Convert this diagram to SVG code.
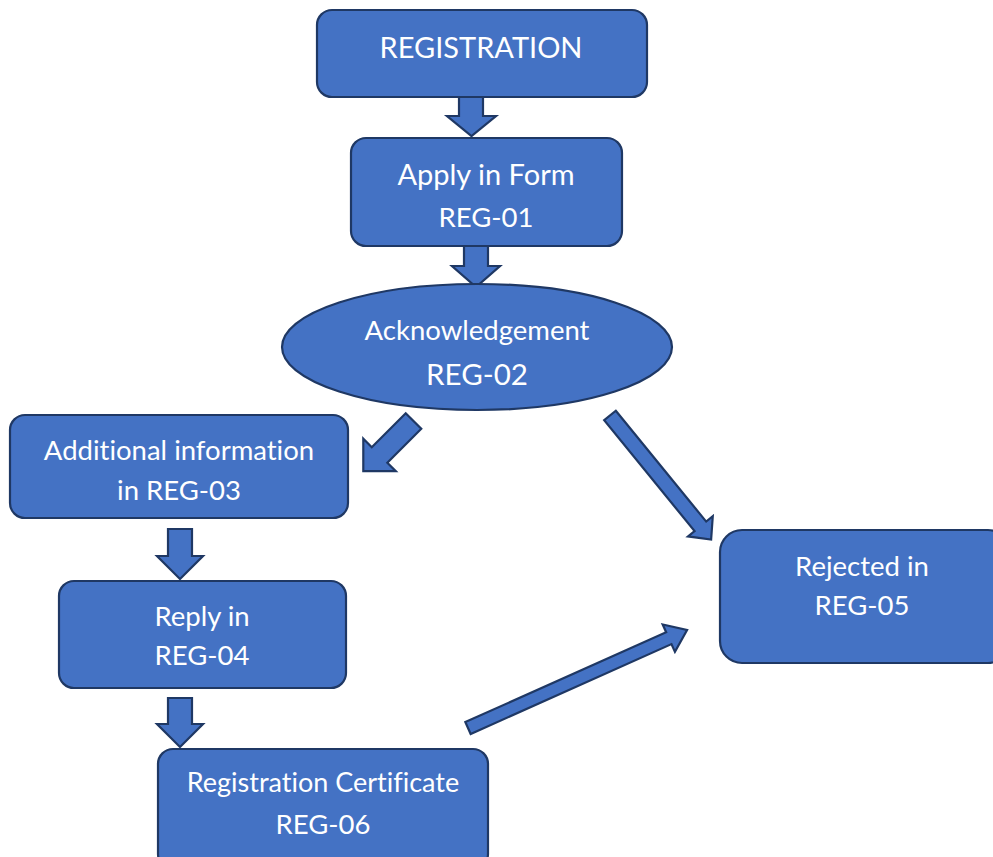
<svg xmlns="http://www.w3.org/2000/svg" width="993" height="857" viewBox="0 0 993 857">
  <style>
    .box { fill: #4472C4; stroke: #1F3864; stroke-width: 2.2; }
    .arrow { fill: #4472C4; stroke: #1F3864; stroke-width: 2.2; stroke-linejoin: miter; }
    .label { fill: #FFFFFF; font-family: "Lato", "Liberation Sans", sans-serif; font-size: 27.5px; text-anchor: middle; font-variant-ligatures: none; }
  </style>
  <rect width="993" height="857" fill="#FFFFFF"/>

  <g id="connectors">
    <!-- REGISTRATION -> Apply in Form -->
    <polygon class="arrow" points="459,97 483,97 483,116 496,116 471.5,136 447,116 459,116"/>
    <!-- Apply in Form -> Acknowledgement -->
    <polygon class="arrow" points="464,246 488,246 488,266 500,266 476,287 452,266 464,266"/>
    <!-- Acknowledgement -> Additional information -->
    <polygon class="arrow" transform="translate(413.5,421) rotate(135)" points="0,-11 48,-11 48,-23 71,0 48,23 48,11 0,11"/>
    <!-- Acknowledgement -> Rejected -->
    <polygon class="arrow" transform="translate(610,415.5) rotate(50.8)" points="0,-7.5 143,-7.5 143,-16 160,0 143,16 143,7.5 0,7.5"/>
    <!-- Additional information -> Reply -->
    <polygon class="arrow" points="168,529 192,529 192,556 203,556 180,579 157,556 168,556"/>
    <!-- Reply -> Registration Certificate -->
    <polygon class="arrow" points="168,698 192,698 192,724 203,724 180,747 157,724 168,724"/>
    <!-- Registration Certificate -> Rejected -->
    <polygon class="arrow" transform="translate(468,728) rotate(-24.1)" points="0,-6.5 220,-6.5 220,-15 240,0 220,15 220,6.5 0,6.5"/>
  </g>

  <g id="registration">
    <rect class="box" x="317" y="10" width="330" height="87" rx="15"/>
    <text class="label" x="481" y="58" style="font-size:29px">REGISTRATION</text>
  </g>

  <g id="apply-form">
    <rect class="box" x="351" y="138" width="271" height="108" rx="15"/>
    <text class="label" x="486" y="185" style="font-size:29px">Apply in Form</text>
    <text class="label" x="486" y="227">REG-01</text>
  </g>

  <g id="acknowledgement">
    <ellipse class="box" cx="477" cy="347" rx="195" ry="63"/>
    <text class="label" x="477" y="340">Acknowledgement</text>
    <text class="label" x="477" y="385" style="font-size:29.5px">REG-02</text>
  </g>

  <g id="additional-information">
    <rect class="box" x="10" y="415" width="338" height="103" rx="15"/>
    <text class="label" x="179" y="460">Additional information</text>
    <text class="label" x="179" y="500">in REG-03</text>
  </g>

  <g id="reply">
    <rect class="box" x="59" y="581" width="287" height="107" rx="15"/>
    <text class="label" x="202" y="626">Reply in</text>
    <text class="label" x="202" y="665">REG-04</text>
  </g>

  <g id="registration-certificate">
    <rect class="box" x="158" y="749" width="330" height="120" rx="15"/>
    <text class="label" x="323" y="792" style="font-size:27px">Registration Certificate</text>
    <text class="label" x="323" y="834">REG-06</text>
  </g>

  <g id="rejected">
    <rect class="box" x="720" y="530" width="290" height="133" rx="22"/>
    <text class="label" x="862" y="576">Rejected in</text>
    <text class="label" x="862" y="615">REG-05</text>
  </g>
</svg>
